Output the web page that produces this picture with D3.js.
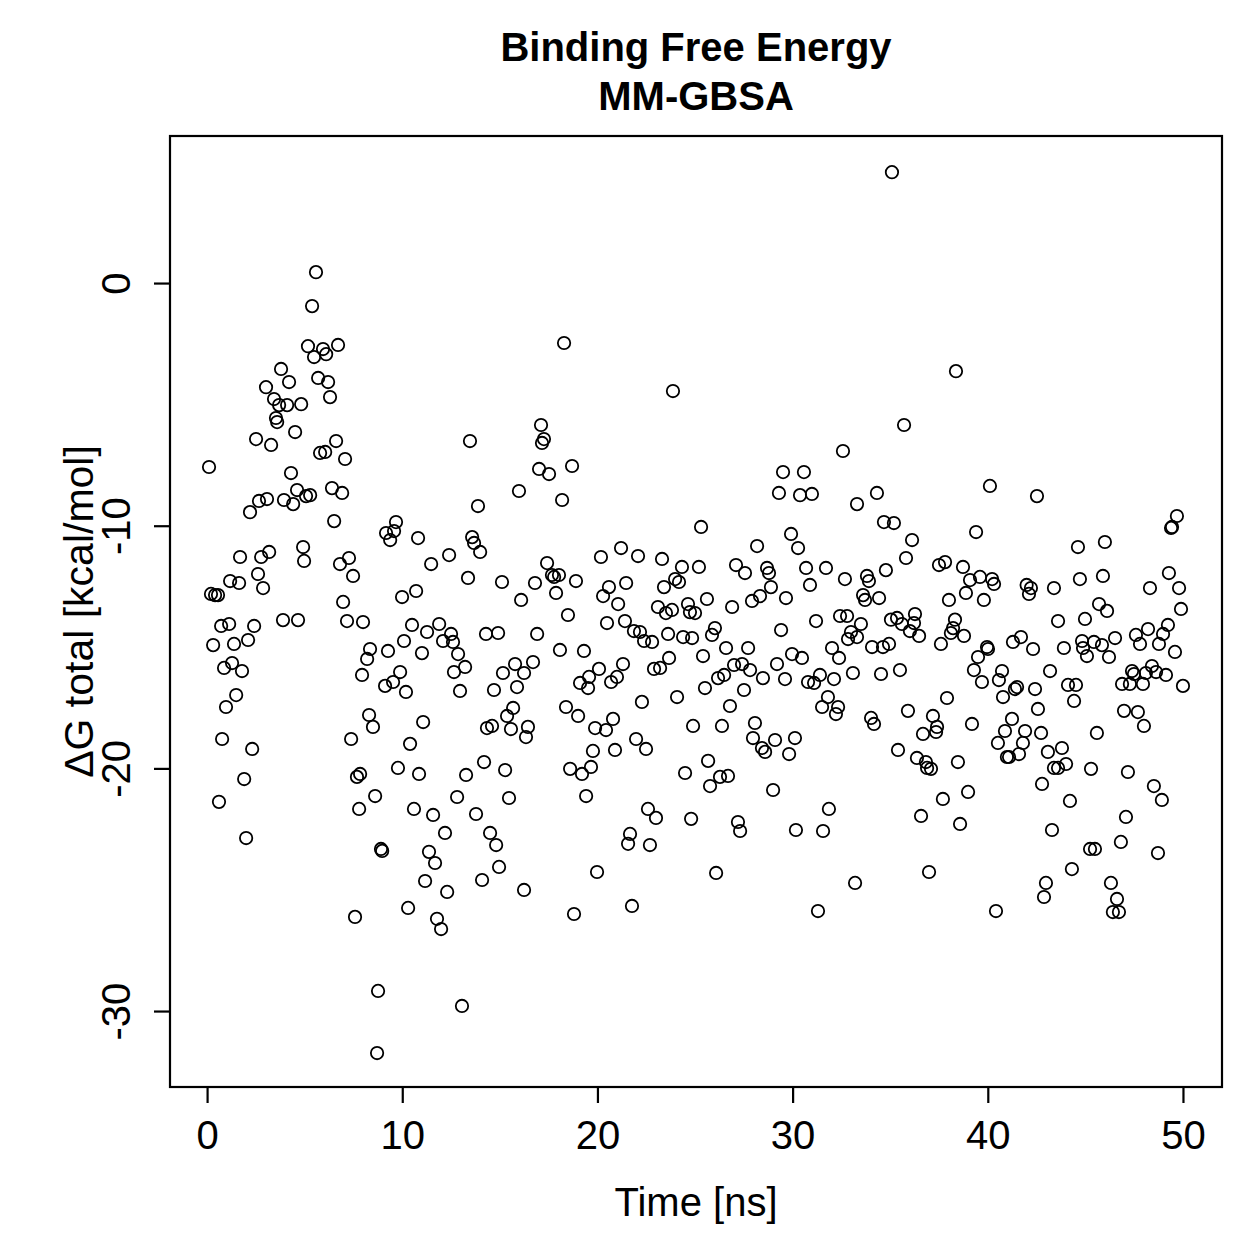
<!DOCTYPE html>
<html>
<head>
<meta charset="utf-8">
<script src="https://cdn.jsdelivr.net/npm/d3@7"></script>
<style>
  body { margin: 0; background: #fff; }
  svg { font-family: "Liberation Sans", Arial, Helvetica, sans-serif; }
</style>
</head>
<body>
<div id="chart"></div>
<script>
const titleLines = ['Binding Free Energy', 'MM-GBSA'];
const xLabel = 'Time [ns]';
const yLabel = 'ΔG total [kcal/mol]';
const xTicks = [0, 10, 20, 30, 40, 50];
const yTicks = [0, -10, -20, -30];

// time (ns) and binding free energy (kcal/mol)
const timeNs = [
  0.10,0.20,0.41,0.56,0.31,0.61,0.72,0.77,0.87,0.97,
  1.13,1.18,1.28,1.38,1.49,1.64,1.69,1.79,1.90,2.00,
  2.10,2.20,2.31,2.41,2.51,2.61,2.66,2.77,2.87,3.02,
  3.07,3.18,3.28,3.43,3.53,3.59,3.69,3.79,3.89,3.94,
  4.10,4.20,4.30,4.41,4.51,4.61,4.66,4.82,4.92,4.97,
  5.07,5.17,5.28,5.38,5.48,5.58,5.69,5.79,5.94,6.05,
  6.10,6.20,6.30,6.40,6.51,6.61,6.71,6.81,6.92,6.97,
  7.07,7.17,7.27,7.38,7.48,7.58,7.68,7.79,7.84,7.99,
  7.94,8.20,8.35,8.30,8.50,8.61,8.71,8.76,8.91,8.97,
  9.12,9.17,9.27,9.38,9.53,9.58,9.68,9.78,9.89,9.99,
  10.09,10.19,10.30,10.40,10.50,10.60,10.71,10.81,10.86,11.01,
  11.07,11.17,11.27,11.37,11.48,11.58,11.68,11.78,11.89,11.99,
  12.09,12.19,12.30,12.40,12.50,12.60,12.65,12.81,12.86,12.96,
  13.06,13.22,13.27,13.37,13.47,13.58,13.68,13.78,13.88,13.99,
  14.09,14.19,14.29,14.34,14.50,14.60,14.70,14.81,14.91,14.96,
  15.11,15.16,15.27,15.37,15.47,15.57,15.68,15.78,15.88,15.98,
  16.09,16.24,16.24,16.34,16.44,16.70,16.80,16.91,17.01,17.11,
  17.16,17.26,17.42,17.52,17.67,17.78,17.88,18.03,18.08,18.19,
  18.29,18.39,18.49,18.60,18.70,18.80,18.90,19.01,19.11,19.21,
  19.31,19.42,19.52,19.57,19.67,19.77,19.88,19.98,20.08,20.18,
  20.29,20.44,20.49,20.59,20.70,20.80,20.90,21.00,21.06,21.21,
  21.31,21.41,21.47,21.57,21.67,21.77,21.87,21.98,22.08,22.18,
  22.28,22.39,22.49,22.59,22.69,22.80,22.90,23.00,23.10,23.21,
  23.31,23.41,23.51,23.62,23.67,23.82,23.87,23.98,24.08,24.18,
  24.33,24.39,24.49,24.64,24.74,24.80,24.85,24.90,25.00,25.20,
  25.31,25.41,25.51,25.61,25.67,25.77,25.87,26.02,26.08,26.18,
  26.28,26.38,26.49,26.59,26.69,26.79,26.90,27.00,27.10,27.20,
  27.31,27.41,27.51,27.56,27.72,27.82,27.92,27.97,28.07,28.18,
  28.33,28.43,28.48,28.59,28.69,28.79,28.89,29.00,29.10,29.20,
  29.30,29.41,29.51,29.61,29.66,29.82,29.92,29.97,30.12,30.17,
  30.28,30.38,30.48,30.58,30.69,30.79,30.89,30.99,31.10,31.20,
  31.30,31.40,31.51,31.56,31.71,31.81,31.86,32.02,32.12,32.22,
  32.33,32.38,32.43,32.58,32.68,32.79,32.84,32.99,33.09,33.20,
  33.30,33.30,33.50,33.61,33.71,33.81,33.91,34.02,34.07,34.17,
  34.32,34.43,34.53,34.63,34.68,34.78,34.94,35.04,35.09,35.19,
  35.35,35.40,35.50,35.60,35.71,35.81,35.91,36.01,36.12,36.22,
  36.27,36.37,36.48,36.58,36.68,36.83,36.89,36.99,37.09,37.19,
  37.35,37.40,37.50,37.60,37.70,37.81,37.91,38.01,38.11,38.22,
  38.32,38.37,38.47,38.58,38.73,38.78,38.88,38.99,39.09,39.19,
  39.29,39.40,39.50,39.60,39.70,39.80,39.96,40.01,40.11,40.22,
  40.32,40.42,40.52,40.57,40.73,40.78,40.88,40.98,41.09,41.24,
  41.29,41.39,41.50,41.60,41.70,41.80,41.91,41.99,42.11,42.21,
  42.32,42.42,42.52,42.57,42.73,42.78,42.88,42.98,43.08,43.19,
  43.29,43.39,43.39,43.60,43.60,43.80,43.90,44.01,44.11,44.21,
  44.31,44.42,44.52,44.62,44.72,44.83,44.88,44.98,45.08,45.24,
  45.29,45.44,45.49,45.59,45.70,45.85,45.90,46.00,46.11,46.21,
  46.31,46.41,46.52,46.62,46.72,46.82,46.88,46.98,47.08,47.18,
  47.28,47.39,47.49,47.59,47.69,47.80,47.95,48.00,48.10,48.21,
  48.31,48.41,48.51,48.62,48.72,48.77,48.92,48.98,49.13,49.23,
  49.28,49.39,49.44,49.59,49.69,49.80,49.90,50.00
];

const deltaG = [
  -7.58,-12.81,-12.86,-12.86,-14.92,-21.38,-14.13,-18.79,-15.86,-17.47,
  -14.05,-12.28,-15.66,-14.87,-16.98,-12.36,-11.29,-15.99,-20.44,-22.87,
  -14.71,-9.44,-19.20,-14.13,-6.43,-11.99,-8.98,-11.29,-12.57,-4.29,
  -8.90,-11.08,-6.67,-4.78,-5.56,-5.73,-5.03,-3.54,-13.89,-8.94,
  -5.03,-4.08,-7.83,-9.11,-6.14,-8.53,-13.89,-4.99,-10.88,-11.45,
  -8.78,-2.60,-8.74,-0.95,-3.05,0.45,-3.91,-7.00,-2.72,-6.96,
  -2.93,-4.08,-4.70,-8.45,-9.81,-6.51,-2.55,-11.58,-8.65,-13.14,
  -7.25,-13.93,-11.33,-18.79,-12.07,-26.12,-20.35,-21.67,-20.23,-13.97,
  -16.15,-15.49,-15.08,-17.80,-18.29,-21.14,-31.73,-29.17,-23.32,-23.40,
  -16.60,-10.30,-15.16,-10.59,-16.44,-10.22,-9.85,-19.98,-16.03,-12.94,
  -14.75,-16.85,-25.75,-18.99,-14.09,-21.67,-12.69,-10.51,-20.23,-15.25,
  -18.09,-24.64,-14.38,-23.44,-11.58,-21.92,-23.90,-26.20,-14.05,-26.62,
  -14.75,-22.66,-25.09,-11.21,-14.46,-14.79,-16.03,-21.18,-15.29,-16.81,
  -29.79,-15.82,-20.27,-12.15,-6.51,-10.47,-10.71,-21.88,-9.19,-11.08,
  -24.60,-19.74,-14.46,-18.34,-22.66,-18.25,-16.77,-23.16,-14.42,-24.06,
  -12.32,-16.07,-20.07,-17.84,-21.22,-18.38,-17.51,-15.70,-16.65,-8.57,
  -13.06,-16.07,-25.01,-18.71,-18.29,-15.62,-12.36,-14.46,-7.66,-5.85,
  -6.59,-6.43,-11.54,-7.87,-12.03,-12.11,-12.77,-12.03,-15.12,-8.94,
  -2.47,-17.47,-13.68,-20.02,-7.54,-26.00,-12.28,-17.84,-16.48,-20.23,
  -15.16,-21.14,-16.69,-16.23,-19.94,-19.28,-18.34,-24.27,-15.90,-11.29,
  -12.90,-18.42,-14.01,-12.53,-16.44,-17.96,-19.24,-16.23,-13.23,-10.92,
  -15.70,-13.93,-12.36,-23.11,-22.70,-25.67,-14.34,-18.79,-11.25,-14.38,
  -17.26,-14.75,-19.20,-21.67,-23.16,-14.79,-15.90,-22.04,-13.35,-15.86,
  -11.37,-12.53,-13.60,-14.46,-15.45,-13.47,-4.45,-12.20,-17.06,-12.32,
  -11.70,-14.59,-20.19,-13.23,-13.56,-22.08,-14.63,-18.25,-13.60,-11.70,
  -10.05,-15.37,-16.69,-13.02,-19.69,-20.73,-14.50,-14.22,-24.31,-16.28,
  -20.35,-18.25,-16.15,-15.04,-20.31,-17.43,-13.35,-15.74,-11.62,-22.21,
  -22.58,-15.70,-16.77,-11.95,-15.04,-15.95,-13.10,-18.75,-18.13,-10.84,
  -12.90,-19.16,-16.28,-19.32,-11.74,-11.95,-12.53,-20.89,-18.83,-15.70,
  -8.65,-14.30,-7.79,-16.32,-12.98,-19.41,-10.34,-15.29,-18.75,-22.54,
  -10.92,-8.74,-15.45,-7.79,-11.74,-16.44,-12.44,-8.69,-16.48,-13.93,
  -25.88,-16.15,-17.47,-22.58,-11.74,-17.06,-21.67,-15.04,-16.32,-17.76,
  -17.47,-15.45,-13.72,-6.92,-12.20,-13.72,-14.67,-14.38,-16.07,-24.72,
  -9.11,-14.59,-14.05,-12.86,-13.06,-12.07,-12.28,-17.92,-15.00,-18.17,
  -8.65,-12.98,-16.11,-15.00,-9.85,-11.83,-14.87,-13.87,4.57,-9.89,
  -13.80,-19.24,-15.95,-14.05,-5.85,-11.33,-17.63,-14.34,-10.59,-14.01,
  -13.64,-19.57,-14.54,-21.96,-18.58,-19.74,-19.98,-24.27,-20.02,-17.84,
  -18.50,-18.29,-11.62,-14.87,-21.26,-11.50,-17.10,-13.06,-14.42,-14.22,
  -13.87,-3.63,-19.74,-22.29,-11.70,-14.54,-12.77,-20.97,-12.24,-18.17,
  -15.95,-10.26,-15.41,-12.11,-16.44,-13.06,-15.00,-15.08,-8.36,-12.20,
  -12.40,-25.88,-18.95,-16.36,-15.99,-17.06,-18.46,-19.53,-19.53,-17.96,
  -14.79,-16.73,-16.65,-19.41,-14.59,-18.95,-18.46,-12.44,-12.81,-12.57,
  -15.08,-16.73,-8.78,-17.55,-18.54,-20.64,-25.30,-24.72,-19.32,-15.99,
  -22.54,-12.57,-19.98,-13.93,-19.98,-19.16,-15.04,-19.82,-16.56,-21.34,
  -24.15,-17.22,-16.56,-10.88,-12.20,-14.75,-15.04,-13.84,-15.37,-23.32,
  -20.02,-14.79,-23.32,-18.54,-13.23,-14.92,-12.07,-10.67,-13.51,-15.41,
  -24.72,-25.92,-14.63,-25.38,-25.92,-23.03,-16.52,-17.63,-22.00,-20.15,
  -16.52,-15.99,-16.11,-14.50,-17.68,-14.87,-16.52,-18.25,-16.07,-14.26,
  -12.57,-15.78,-20.73,-16.03,-23.49,-14.87,-21.30,-14.46,-16.15,-14.09,
  -11.95,-10.09,-10.05,-15.20,-9.60,-12.57,-13.43,-16.60
];

const width = 1259, height = 1259;
const margin = { top: 136, right: 37, bottom: 172, left: 170 };
const plotW = width - margin.left - margin.right;
const plotH = height - margin.top - margin.bottom;

const points = timeNs.map((t, i) => ({ t: t, g: deltaG[i] }));

const svg = d3.select('#chart').append('svg')
  .attr('width', width)
  .attr('height', height);

// R pads the data range by 4% on each side
const xScale = d3.scaleLinear().domain([-1.9, 52.0]).range([0, plotW]);
const yScale = d3.scaleLinear().domain([-33.13, 6.06]).range([plotH, 0]);

const chart = svg.append('g')
  .attr('transform', `translate(${margin.left}, ${margin.top})`);

chart.selectAll('.pt')
  .data(points)
  .enter()
  .append('circle')
  .attr('class', 'pt')
  .attr('cx', d => xScale(d.t))
  .attr('cy', d => yScale(d.g))
  .attr('r', 6.2)
  .attr('fill', 'none')
  .attr('stroke', '#000')
  .attr('stroke-width', 1.8);

chart.append('rect')
  .attr('width', plotW)
  .attr('height', plotH)
  .attr('fill', 'none')
  .attr('stroke', '#000')
  .attr('stroke-width', 2.2);

const xAxis = chart.append('g')
  .attr('transform', `translate(0, ${plotH})`)
  .call(d3.axisBottom(xScale).tickValues(xTicks).tickSize(16).tickPadding(18)
    .tickFormat(d => String(d)));

const yAxis = chart.append('g')
  .call(d3.axisLeft(yScale).tickValues(yTicks).tickSize(16)
    .tickFormat(d => String(d)));

[xAxis, yAxis].forEach(ax => {
  ax.select('.domain').remove();
  ax.selectAll('line').attr('stroke', '#000').attr('stroke-width', 2.2);
  ax.selectAll('text')
    .attr('fill', '#000')
    .style('font-size', '40px')
    .style('font-family', '"Liberation Sans", Arial, Helvetica, sans-serif');
});

yAxis.selectAll('text')
  .attr('x', null)
  .attr('dy', null)
  .attr('text-anchor', 'middle')
  .attr('transform', 'translate(-40, 0) rotate(-90)');

svg.selectAll('.title')
  .data(titleLines)
  .enter()
  .append('text')
  .attr('class', 'title')
  .attr('x', margin.left + plotW / 2)
  .attr('y', (d, i) => 61 + i * 49)
  .attr('text-anchor', 'middle')
  .style('font-size', '40px')
  .style('font-weight', 'bold')
  .text(d => d);

svg.append('text')
  .attr('x', margin.left + plotW / 2)
  .attr('y', 1216)
  .attr('text-anchor', 'middle')
  .style('font-size', '40px')
  .text(xLabel);

svg.append('text')
  .attr('transform', `translate(93, ${margin.top + plotH / 2}) rotate(-90)`)
  .attr('text-anchor', 'middle')
  .style('font-size', '41px')
  .text(yLabel);
</script>
</body>
</html>
